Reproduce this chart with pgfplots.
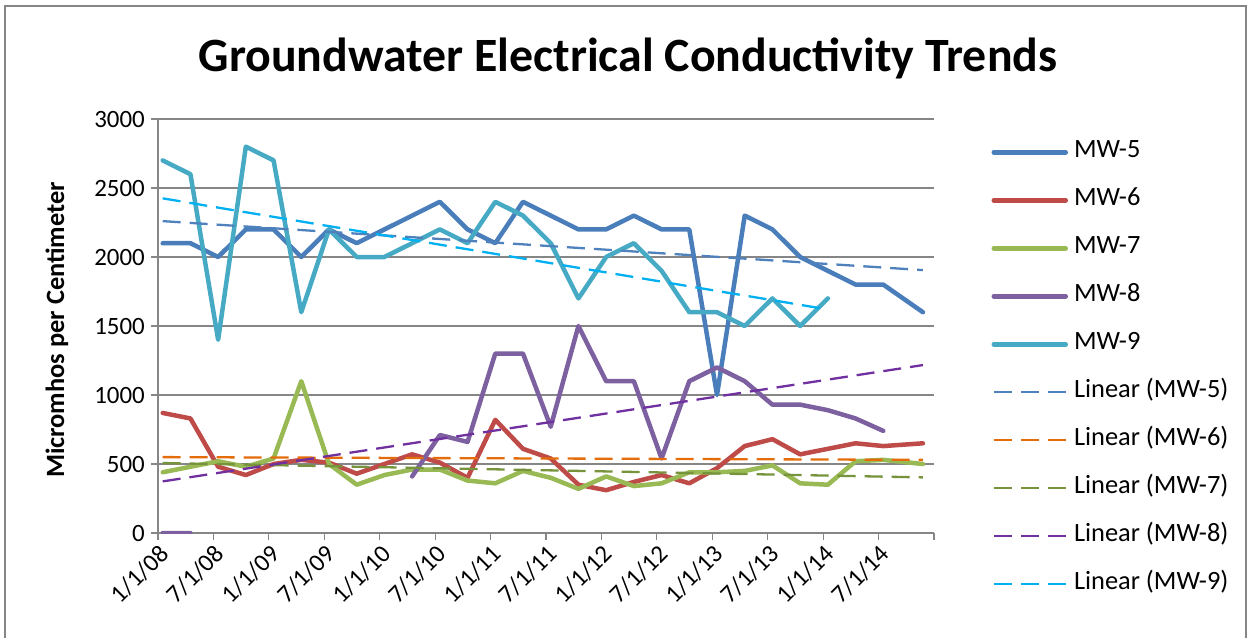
\documentclass[border=0pt]{standalone}
\usepackage{pgfplots}
\pgfplotsset{compat=1.18}
\usepackage{pgfplotstable}
\usepackage{fontspec}
\setmainfont{Carlito}
\definecolor{cMWfive}{HTML}{4A7EBB}
\definecolor{cMWsix}{HTML}{BE4B48}
\definecolor{cMWseven}{HTML}{98B954}
\definecolor{cMWeight}{HTML}{7D60A0}
\definecolor{cMWnine}{HTML}{46AAC5}
\definecolor{tFive}{HTML}{4F81BD}
\definecolor{tSix}{HTML}{E46C0A}
\definecolor{tSeven}{HTML}{77933C}
\definecolor{tEight}{HTML}{7030A0}
\definecolor{tNine}{HTML}{00B0F0}
\definecolor{gridgray}{HTML}{868686}

\pgfplotstableread{
x mw5 mw6 mw7 mw8 mw9
0.17 2100 870 440 0 2700
1.17 2100 830 480 0 2600
2.17 2000 480 520 nan 1400
3.17 2200 420 480 nan 2800
4.17 2200 500 540 nan 2700
5.17 2000 530 1100 nan 1600
6.17 2200 510 500 nan 2200
7.17 2100 430 350 nan 2000
8.17 2200 500 420 nan 2000
9.17 2300 570 460 410 2100
10.17 2400 510 460 710 2200
11.17 2200 400 380 660 2100
12.17 2100 820 360 1300 2400
13.17 2400 610 450 1300 2300
14.17 2300 540 400 770 2100
15.17 2200 350 320 1500 1700
16.17 2200 310 410 1100 2000
17.17 2300 370 340 1100 2100
18.17 2200 420 360 540 1900
19.17 2200 360 440 1100 1600
20.17 1000 470 440 1200 1600
21.17 2300 630 450 1100 1500
22.17 2200 680 490 930 1700
23.17 2000 570 360 930 1500
24.17 1900 610 350 890 1700
25.17 1800 650 520 830 nan
26.17 1800 630 530 740 nan
27.6 1600 650 500 nan nan
}\datatable

\begin{document}
\begin{tikzpicture}
\useasboundingbox (0bp,0bp) rectangle (1252bp,-638bp);
\draw[gridgray, line width=1.2bp] (5bp,-660bp) -- (5bp,-6bp) -- (1246bp,-6bp) -- (1246bp,-660bp);
\node[font=\fontsize{48}{56}\selectfont\bfseries] at (628bp,-58bp) {Groundwater Electrical Conductivity Trends};
\node[font=\fontsize{26.5}{30}\selectfont\bfseries, rotate=90] at (57bp,-330bp) {Micromhos per Centimeter};
\begin{axis}[
  at={(158bp,-533bp)}, anchor=south west,
  scale only axis, width=776bp, height=414bp,
  xmin=0, xmax=28, ymin=0, ymax=3000,
  axis x line*=bottom, axis y line*=left,
  axis line style={gridgray, line width=1.2bp},
  xtick={0,2,...,28},
  xticklabels={1/1/08,7/1/08,1/1/09,7/1/09,1/1/10,7/1/10,1/1/11,7/1/11,1/1/12,7/1/12,1/1/13,7/1/13,1/1/14,7/1/14,{}},
  ytick={0,500,...,3000},
  ymajorgrids,
  major grid style={gridgray, line width=1.2bp},
  tick align=outside, major tick length=7bp,
  every tick/.style={gridgray, line width=1.2bp},
  /pgf/number format/assume math mode=true,
  /pgf/number format/1000 sep={},
  tick label style={font=\fontsize{25}{29}\selectfont, black},
  x tick label style={rotate=45, anchor=north east, inner sep=2bp},
  y tick label style={inner sep=6bp},
  unbounded coords=jump,
  line join=round,
  legend cell align=left,
  legend style={at={(1.07,0.955)}, anchor=north west, draw=none, fill=none,
    font=\fontsize{26.5}{30}\selectfont, row sep=23bp,
    nodes={inner sep=0pt, text height=18bp, text depth=7bp},
    /tikz/every odd column/.append style={column sep=6bp}},
  legend image code/.code={\draw[#1] (0bp,0bp) -- (72bp,0bp);},
]
\addplot[cMWfive, line width=4.5bp, line cap=round] table[x=x, y=mw5] {\datatable};
\addlegendentry{MW-5}
\addplot[cMWsix, line width=4.5bp, line cap=round] table[x=x, y=mw6] {\datatable};
\addlegendentry{MW-6}
\addplot[cMWseven, line width=4.5bp, line cap=round] table[x=x, y=mw7] {\datatable};
\addlegendentry{MW-7}
\addplot[cMWeight, line width=4.5bp, line cap=round] table[x=x, y=mw8] {\datatable};
\addlegendentry{MW-8}
\addplot[cMWnine, line width=4.5bp, line cap=round] table[x=x, y=mw9] {\datatable};
\addlegendentry{MW-9}
\addplot[tFive, line width=2.3bp, dash pattern=on 18bp off 9bp] coordinates {(0.17,2260) (27.6,1905)};
\addlegendentry{Linear (MW-5)}
\addplot[tSix, line width=2.3bp, dash pattern=on 18bp off 9bp] coordinates {(0.17,550) (27.6,530)};
\addlegendentry{Linear (MW-6)}
\addplot[tSeven, line width=2.3bp, dash pattern=on 18bp off 9bp] coordinates {(0.17,507) (27.6,403)};
\addlegendentry{Linear (MW-7)}
\addplot[tEight, line width=2.3bp, dash pattern=on 18bp off 9bp] coordinates {(0.17,374) (27.6,1217)};
\addlegendentry{Linear (MW-8)}
\addplot[tNine, line width=2.3bp, dash pattern=on 18bp off 9bp] coordinates {(0.17,2425) (24.17,1620)};
\addlegendentry{Linear (MW-9)}
\end{axis}
\end{tikzpicture}
\end{document}
